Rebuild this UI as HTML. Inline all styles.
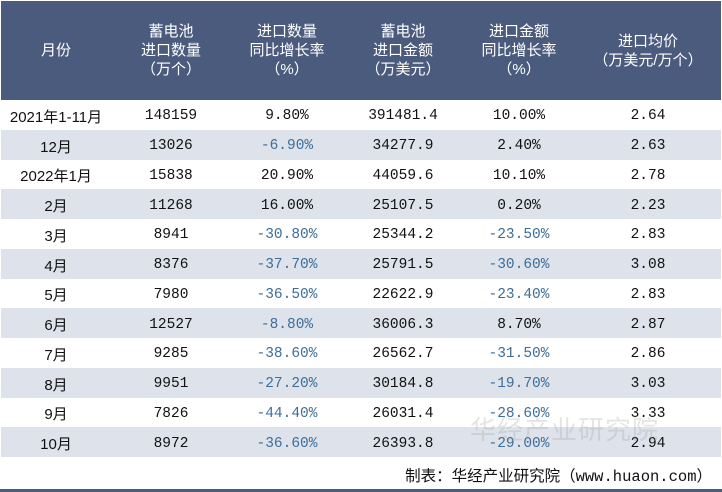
<!DOCTYPE html>
<html><head><meta charset="utf-8"><style>
body{margin:0;width:722px;height:492px;background:#fff;font-family:"Liberation Mono","Noto Sans CJK SC",monospace;overflow:hidden;position:relative}
table{position:absolute;left:1px;top:1px;width:720px;border-collapse:collapse;table-layout:fixed}
th{background:#4b5b7d;color:#fff;font-weight:normal;font-size:15px;line-height:19px;height:99px;font-family:"Liberation Sans","Noto Sans CJK SC",sans-serif;padding:0}
td{height:29.75px;padding:3px 0 0 0;box-sizing:border-box;text-align:center;font-size:14.5px;color:#111}
tr.s td{background:#dde2eb}
td.n{color:#3d6e99}
td.m{font-family:"Liberation Sans","Noto Sans CJK SC",sans-serif;font-size:15px}
#foot{position:absolute;top:464px;right:10px;font-size:15.5px;color:#111}
#line{position:absolute;left:0;top:489px;width:722px;height:3px;background:#4b5b7d}
#wm{position:absolute;left:470px;top:410px;font-size:26px;color:rgba(150,150,150,.25);font-family:"Noto Sans CJK SC",sans-serif;letter-spacing:1px}
</style></head><body>
<table>
<colgroup><col style="width:110px"><col style="width:120px"><col style="width:112px"><col style="width:120px"><col style="width:112px"><col style="width:146px"></colgroup>
<thead><tr>
<th>月份</th><th>蓄电池<br>进口数量<br>（万个）</th><th>进口数量<br>同比增长率<br>（%）</th><th>蓄电池<br>进口金额<br>（万美元）</th><th>进口金额<br>同比增长率<br>（%）</th><th>进口均价<br>（万美元/万个）</th>
</tr></thead>
<tbody id="tb"></tbody></table>
<div id="wm">华经产业研究院</div>
<div id="foot">制表：华经产业研究院（www.huaon.com）</div>
<div id="line"></div>
<script>
const months=["2021年1-11月","12月","2022年1月","2月","3月","4月","5月","6月","7月","8月","9月","10月"];
const qty=["148159","13026","15838","11268","8941","8376","7980","12527","9285","9951","7826","8972"];
const qtyYoy=["9.80%","-6.90%","20.90%","16.00%","-30.80%","-37.70%","-36.50%","-8.80%","-38.60%","-27.20%","-44.40%","-36.60%"];
const amt=["391481.4","34277.9","44059.6","25107.5","25344.2","25791.5","22622.9","36006.3","26562.7","30184.8","26031.4","26393.8"];
const amtYoy=["10.00%","2.40%","10.10%","0.20%","-23.50%","-30.60%","-23.40%","8.70%","-31.50%","-19.70%","-28.60%","-29.00%"];
const price=["2.64","2.63","2.78","2.23","2.83","3.08","2.83","2.87","2.86","3.03","3.33","2.94"];
const tb=document.getElementById('tb');
months.forEach((m,i)=>{
 const tr=document.createElement('tr');
 
 
 if(i%2)tr.className='s';
 [m,qty[i],qtyYoy[i],amt[i],amtYoy[i],price[i]].forEach((v,j)=>{
  const td=document.createElement('td');
  
  
  td.textContent=v;
  if(j==0)td.className='m';
  if((j==2||j==4)&&v[0]=='-')td.className='n';
  tr.appendChild(td);
 });
 tb.appendChild(tr);
});
</script>
</body></html>
